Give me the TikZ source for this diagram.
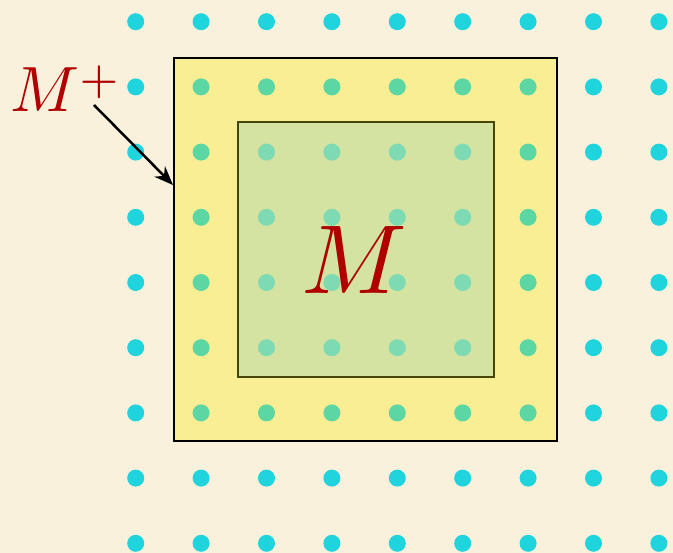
\documentclass[tikz,border=0pt]{standalone}
\usetikzlibrary{arrows.meta}
\begin{document}
\begin{tikzpicture}[x=1pt,y=-1pt,
  frame/.style={line width=1.9pt,draw=black},
  innerframe/.style={line width=1.3pt,draw=olivebd},
  labeltext/.style={text=labelred,inner sep=0pt},
  pointer/.style={line width=2.5pt,-{Stealth[length=19pt,width=15pt]}}]
\definecolor{paper}{RGB}{250,241,220}
\definecolor{cyandot}{RGB}{32,212,222}
\definecolor{yellowfill}{RGB}{249,238,148}
\definecolor{yellowdot}{RGB}{92,214,162}
\definecolor{greenfill}{RGB}{212,227,162}
\definecolor{greendot}{RGB}{126,218,178}
\definecolor{olivebd}{RGB}{70,70,10}
\definecolor{labelred}{RGB}{176,0,0}
\useasboundingbox (0,0) rectangle (673,553);
\fill[paper] (0,0) rectangle (673,553);
% dots on background
\foreach \i in {0,...,8} {\foreach \j in {0,...,8} {
  \fill[cyandot] ({135.7+65.4*\i},{21.7+65.2*\j}) circle (8.5);
}}
% outer region
\fill[yellowfill] (174,58) rectangle (557,441);
\begin{scope}
\clip (174,58) rectangle (557,441);
\foreach \i in {0,...,8} {\foreach \j in {0,...,8} {
  \fill[yellowdot] ({135.7+65.4*\i},{21.7+65.2*\j}) circle (8.5);
}}
\end{scope}
% inner region
\fill[greenfill] (238,122) rectangle (494,377);
\begin{scope}
\clip (238,122) rectangle (494,377);
\foreach \i in {0,...,8} {\foreach \j in {0,...,8} {
  \fill[greendot] ({135.7+65.4*\i},{21.7+65.2*\j}) circle (8.5);
}}
\end{scope}
\draw[innerframe] (238,122) rectangle (494,377);
\draw[frame] (174,58) rectangle (557,441);
\coordinate (outerleft) at (173,185);
\node[labeltext,anchor=base,scale=9.8] (m) at (354,294) {$M$};
\node[labeltext,anchor=base west,scale=6.4] (mp) at (9,112) {$M^{\raisebox{-0.7pt}{$\scriptstyle+$}}$};
\coordinate (arrstart) at (94,105);
\draw[pointer] (arrstart) -- (outerleft);
\end{tikzpicture}
\end{document}
